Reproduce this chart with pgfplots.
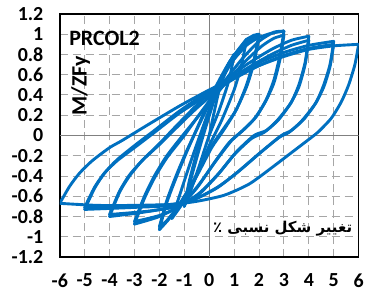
\documentclass[border=0pt]{standalone}
\usepackage{fontspec}
\setmainfont{Carlito}
\newfontfamily\arabicfont[Script=Arabic]{DejaVu Sans}
\TeXXeTstate=1
\usepackage{pgfplots}
\pgfplotsset{compat=1.18}
\definecolor{myblue}{RGB}{0,112,192}
\definecolor{gridgray}{RGB}{166,166,166}
\begin{document}
\begin{tikzpicture}
\begin{axis}[
  width=300pt, height=244pt, scale only axis,
  xmin=-6, xmax=6, ymin=-1.2, ymax=1.2,
  xtick={-6,-5,-4,-3,-2,-1,0,1,2,3,4,5,6},
  xticklabels={-6,-5,-4,-3,-2,-1,0,1,2,3,4,5,6},
  ytick={-1.2,-1,-0.8,-0.6,-0.4,-0.2,0,0.2,0.4,0.6,0.8,1,1.2},
  yticklabels={-1.2,-1,-0.8,-0.6,-0.4,-0.2,0,0.2,0.4,0.6,0.8,1,1.2},
  grid=major,
  major grid style={gridgray, line width=1pt, dash pattern=on 8pt off 5pt},
  major tick length=0pt,
  axis line style={black, line width=1.6pt},
  ticklabel style={font=\fontsize{20}{21}\selectfont\bfseries},
  yticklabel style={anchor=east, xshift=-13pt},
  xticklabel style={anchor=north, yshift=-13pt},
  hyst/.style={color=myblue, line width=2.9pt, smooth, tension=0.4, no marks, line join=round, line cap=round},
  clip=true,
]
\draw[gray, line width=1.2pt] (axis cs:0,-1.2) -- (axis cs:0,1.2);
\draw[gray, line width=1.2pt] (axis cs:-6,0) -- (axis cs:6,0);
% A = 1
\addplot[hyst] coordinates {(0,0) (0.4,0.45) (0.7,0.65) (1,0.8)};
\addplot[hyst] coordinates {(1,0.8) (0.8,0.55) (0.4,0.25) (0,0) (-0.4,-0.3) (-0.75,-0.55) (-1,-0.7)};
\addplot[hyst] coordinates {(-1,-0.7) (-0.7,-0.4) (-0.3,-0.05) (0.2,0.35) (0.6,0.62) (1,0.8)};
% A = 1.5
\addplot[hyst] coordinates {(-1,-0.7) (-0.8,-0.45) (-0.4,-0.08) (0.2,0.38) (0.8,0.72) (1.5,0.95)};
\addplot[hyst] coordinates {(1.5,0.95) (1.3,0.7) (1.0,0.45) (0.5,0.15) (0,-0.1) (-0.6,-0.45) (-1.1,-0.68) (-1.5,-0.82)};
\addplot[hyst] coordinates {(-1.5,-0.82) (-1.2,-0.6) (-0.8,-0.3) (-0.3,0.05) (0.3,0.45) (0.9,0.75) (1.5,0.95)};
% A = 2
\addplot[hyst] coordinates {(1.5,0.95) (1.8,0.99) (2,1.0)};
\addplot[hyst] coordinates {(2,1.0) (1.8,0.75) (1.5,0.5) (1.1,0.26) (0.6,0.06) (0.1,-0.12) (-0.5,-0.4) (-1.1,-0.65) (-1.6,-0.82) (-2,-0.93)};
\addplot[hyst] coordinates {(-2,-0.93) (-1.7,-0.66) (-1.3,-0.4) (-0.9,-0.16) (-0.4,0.12) (0.2,0.45) (0.8,0.72) (1.4,0.9) (2,1.0)};
\addplot[hyst] coordinates {(2,0.97) (1.8,0.72) (1.5,0.48) (1.05,0.24) (0.5,0.04) (0,-0.14) (-0.6,-0.43) (-1.2,-0.68) (-1.7,-0.84) (-2,-0.9)};
\addplot[hyst] coordinates {(-2,-0.9) (-1.7,-0.64) (-1.3,-0.38) (-0.9,-0.15) (-0.3,0.16) (0.3,0.46) (0.9,0.72) (1.5,0.89) (2,0.97)};
% A = 3
\addplot[hyst] coordinates {(2,0.97) (2.5,1.01) (3,1.03)};
\addplot[hyst] coordinates {(3,1.03) (2.85,0.8) (2.6,0.55) (2.3,0.36) (1.9,0.19) (1.4,0.06) (0.9,-0.05) (0.3,-0.24) (-0.4,-0.48) (-1.1,-0.68) (-2,-0.8) (-3,-0.875)};
\addplot[hyst] coordinates {(-3,-0.875) (-2.6,-0.62) (-2.2,-0.42) (-1.7,-0.22) (-1.0,0.0) (-0.3,0.24) (0.5,0.5) (1.3,0.75) (2.0,0.93) (2.6,1.02) (3,1.03)};
\addplot[hyst] coordinates {(3,0.99) (2.85,0.76) (2.6,0.52) (2.25,0.33) (1.8,0.16) (1.3,0.04) (0.8,-0.07) (0.2,-0.27) (-0.5,-0.52) (-1.2,-0.7) (-2,-0.79) (-3,-0.85)};
\addplot[hyst] coordinates {(-3,-0.85) (-2.6,-0.6) (-2.2,-0.4) (-1.7,-0.2) (-1.0,0.02) (-0.2,0.26) (0.6,0.5) (1.4,0.72) (2.1,0.88) (2.6,0.96) (3,0.99)};
% A = 4
\addplot[hyst] coordinates {(-4,-0.8) (-3.6,-0.56) (-3.2,-0.4) (-2.7,-0.25) (-2.0,-0.08) (-1.3,0.1) (-0.5,0.3) (0.5,0.52) (1.5,0.7) (2.5,0.85) (3.3,0.94) (4,0.98)};
\addplot[hyst] coordinates {(4,0.98) (3.85,0.72) (3.6,0.5) (3.3,0.33) (2.8,0.16) (2.3,0.05) (1.8,0.0) (1.1,-0.16) (0.4,-0.37) (-0.4,-0.57) (-1.2,-0.69) (-2.2,-0.74) (-3,-0.77) (-4,-0.8)};
\addplot[hyst] coordinates {(-4,-0.78) (-3.6,-0.55) (-3.2,-0.39) (-2.7,-0.25) (-2.0,-0.09) (-1.3,0.08) (-0.5,0.27) (0.5,0.48) (1.5,0.66) (2.5,0.8) (3.3,0.89) (4,0.94)};
\addplot[hyst] coordinates {(4,0.94) (3.85,0.7) (3.6,0.48) (3.25,0.31) (2.7,0.14) (2.2,0.03) (1.7,-0.03) (1.0,-0.19) (0.3,-0.4) (-0.5,-0.6) (-1.3,-0.7) (-2.2,-0.74) (-3,-0.76) (-4,-0.78)};
% A = 5
\addplot[hyst] coordinates {(-5,-0.73) (-4.6,-0.52) (-4.2,-0.37) (-3.7,-0.24) (-3.0,-0.1) (-2.2,0.05) (-1.2,0.24) (0,0.44) (1,0.59) (2,0.72) (3,0.82) (4,0.89) (5,0.93)};
\addplot[hyst] coordinates {(5,0.93) (4.85,0.7) (4.6,0.5) (4.3,0.33) (3.8,0.16) (3.3,0.05) (2.9,0.0) (2.1,-0.16) (1.2,-0.35) (0.4,-0.5) (-0.5,-0.62) (-1.5,-0.69) (-3,-0.71) (-5,-0.73)};
\addplot[hyst] coordinates {(-5,-0.71) (-4.6,-0.51) (-4.2,-0.37) (-3.7,-0.25) (-3.0,-0.12) (-2.2,0.03) (-1.2,0.22) (0,0.41) (1,0.56) (2,0.69) (3,0.79) (4,0.86) (5,0.9)};
\addplot[hyst] coordinates {(5,0.9) (4.85,0.68) (4.6,0.48) (4.25,0.31) (3.7,0.14) (3.2,0.03) (2.8,-0.02) (2.0,-0.18) (1.1,-0.37) (0.3,-0.52) (-0.6,-0.63) (-1.5,-0.68) (-3,-0.7) (-5,-0.71)};
% A = 6
\addplot[hyst] coordinates {(-6,-0.67) (-5.6,-0.5) (-5.2,-0.37) (-4.7,-0.25) (-4.0,-0.12) (-3.5,-0.05) (-2.5,0.1) (-1.2,0.29) (0,0.45) (1,0.57) (2,0.69) (3,0.78) (4,0.85) (5,0.885) (6,0.9)};
\addplot[hyst] coordinates {(6,0.9) (5.85,0.7) (5.6,0.5) (5.3,0.33) (4.9,0.17) (4.4,0.04) (4.1,-0.02) (3.3,-0.17) (2.5,-0.32) (1.6,-0.48) (0.6,-0.59) (-0.5,-0.65) (-1.5,-0.68) (-3,-0.69) (-4.5,-0.69) (-6,-0.67)};
\node[anchor=west, font=\fontsize{22}{24}\selectfont\bfseries] at (rel axis cs:0.02,0.9) {PRCOL2};
\node[rotate=90, anchor=center, font=\fontsize{22}{24}\selectfont\bfseries] at (rel axis cs:0.07,0.705) {M/ZFy};
\node[anchor=east, font=\arabicfont\fontsize{15}{17}\selectfont\bfseries] at (rel axis cs:0.99,0.115) {\beginR تغییر شکل نسبی ٪\endR};
\coordinate (bl) at (rel axis cs:-0.2,-0.172);
\coordinate (tr) at (rel axis cs:1.0233,1.0574);
\end{axis}
\path (bl) rectangle (tr);
\end{tikzpicture}
\end{document}
